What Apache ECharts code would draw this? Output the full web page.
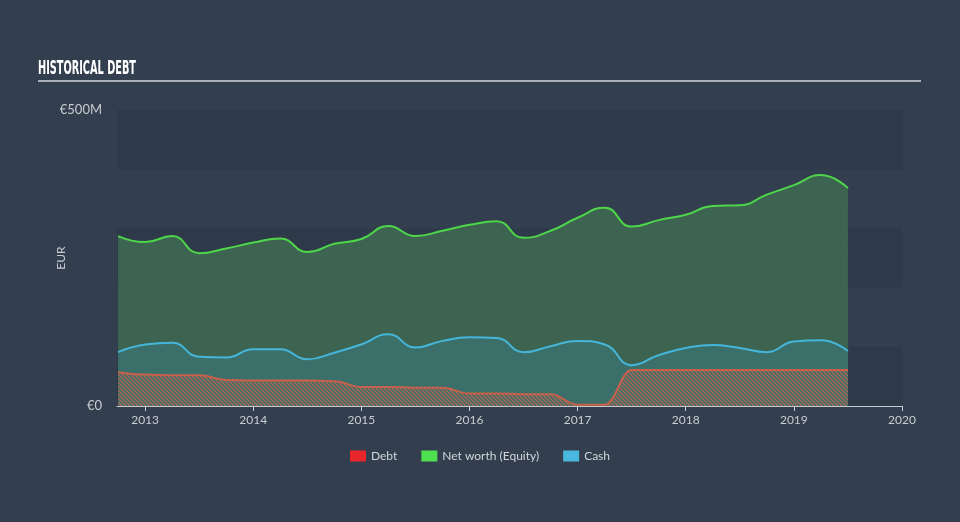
<!DOCTYPE html>
<html>
<head>
<meta charset="utf-8">
<script src="https://cdn.jsdelivr.net/npm/echarts@6/dist/echarts.min.js"></script>
<style>
html,body{margin:0;padding:0;background:#333f4e;}
#chart{width:960px;height:522px;}
</style>
</head>
<body>
<div id="chart"></div>
<script>
// Quarterly time points (fractional years)
var times = [2012.75, 2013.0, 2013.25, 2013.5, 2013.75, 2014.0, 2014.25, 2014.5, 2014.75,
  2015.0, 2015.25, 2015.5, 2015.75, 2016.0, 2016.25, 2016.5, 2016.75,
  2017.0, 2017.25, 2017.5, 2017.75, 2018.0, 2018.25, 2018.5, 2018.75,
  2019.0, 2019.25, 2019.5];
// Values in EUR millions
var equity = [287, 277, 287, 258, 266, 276, 283, 260, 274,
  282, 304, 287, 296, 306, 312, 284, 296,
  318, 335, 303, 314, 323, 338, 339, 357,
  373, 390, 368];
var cash = [91, 104, 107, 83, 82, 96, 96, 79, 90,
  104, 121, 99, 110, 116, 115, 91, 101,
  110, 104, 69, 86, 98, 103, 98, 91,
  109, 111, 93];
var debt = [57, 53, 52, 52, 44, 43, 43, 43, 42,
  32, 32, 31, 31, 21, 21, 20, 20,
  2, 2, 61, 61, 61, 61, 61, 61,
  61, 61, 61];
var yearTicks = [2013, 2014, 2015, 2016, 2017, 2018, 2019, 2020];
var yTickLabels = {0: '€0', 500: '€500M'};

function pairs(vals) {
  return times.map(function (t, i) { return [t, vals[i]]; });
}

// hatch pattern for debt
var pc = document.createElement('canvas');
pc.width = 4; pc.height = 4;
var ctx = pc.getContext('2d');
ctx.strokeStyle = 'rgba(200,100,78,0.8)';
ctx.lineWidth = 1.3;
ctx.beginPath();
ctx.moveTo(0, 0); ctx.lineTo(4, 4);
ctx.moveTo(-1, 3); ctx.lineTo(1, 5);
ctx.moveTo(3, -1); ctx.lineTo(5, 1);
ctx.stroke();

// title scale to fit condensed width
var titleText = 'HISTORICAL DEBT';
var titleFont = 'bold 19px "DejaVu Sans Condensed", "DejaVu Sans", sans-serif';
var mc = document.createElement('canvas').getContext('2d');
mc.font = titleFont;
var titleScale = 98 / mc.measureText(titleText).width;

var chart = echarts.init(document.getElementById('chart'), null, {renderer: 'canvas'});
var labelFont = 'Lato, "Open Sans", sans-serif';
chart.setOption({
  backgroundColor: '#333f4e',
  animation: false,
  graphic: [{
    type: 'text',
    x: 38, y: 60,
    scaleX: titleScale,
    style: {
      text: titleText,
      font: titleFont,
      fill: '#ffffff'
    }
  }, {
    type: 'line',
    shape: {x1: 38, y1: 81, x2: 921, y2: 81},
    style: {stroke: '#a9b0b8', lineWidth: 2}
  }],
  legend: {
    bottom: 55,
    left: 'center',
    icon: 'rect',
    itemWidth: 16, itemHeight: 11, itemGap: 24,
    textStyle: {color: '#d2d6da', fontSize: 12, fontFamily: labelFont},
    data: [
      {name: 'Debt', itemStyle: {color: '#e8262a', borderWidth: 0}},
      {name: 'Net worth (Equity)', itemStyle: {color: '#4ee04e', borderWidth: 0}},
      {name: 'Cash', itemStyle: {color: '#48b8de', borderWidth: 0}}
    ]
  },
  grid: {left: 117, right: 58, top: 110, bottom: 116, containLabel: false},
  xAxis: {
    type: 'value',
    min: 2012.74, max: 2020,
    axisLine: {show: true, lineStyle: {color: '#c3c9cf', width: 1}},
    axisTick: {show: true, length: 5, customValues: yearTicks, lineStyle: {color: '#c3c9cf'}},
    axisLabel: {
      customValues: yearTicks, color: '#c8cdd2', fontSize: 12, margin: 8,
      fontFamily: labelFont,
      formatter: function (v) { return String(Math.round(v)); }
    },
    splitLine: {show: false}
  },
  yAxis: {
    type: 'value',
    min: 0, max: 500, interval: 100,
    name: 'EUR',
    nameLocation: 'middle',
    nameRotate: 90,
    nameGap: 50,
    nameMoveOverlap: false,
    nameTextStyle: {color: '#c8cdd2', fontSize: 12, fontFamily: labelFont},
    axisLine: {show: false},
    axisTick: {show: false},
    axisLabel: {
      color: '#c8cdd2', fontSize: 13, margin: 15, fontFamily: labelFont,
      formatter: function (v) { return yTickLabels[v] || ''; }
    },
    splitLine: {show: false},
    splitArea: {show: true, areaStyle: {color: ['#2e3a4a', '#333f4f']}}
  },
  series: [
    {
      name: 'Net worth (Equity)',
      type: 'line',
      data: pairs(equity),
      smooth: 0.5,
      showSymbol: false,
      itemStyle: {color: '#4ee04e'},
      lineStyle: {color: '#4ed64a', width: 2},
      areaStyle: {color: '#3c6450', opacity: 1, origin: 'start'},
      z: 2
    },
    {
      name: 'Cash',
      type: 'line',
      data: pairs(cash),
      smooth: 0.5,
      showSymbol: false,
      itemStyle: {color: '#48b8de'},
      lineStyle: {color: '#45b6da', width: 2},
      areaStyle: {color: '#3b706a', opacity: 1, origin: 'start'},
      z: 3
    },
    {
      name: 'Debt',
      type: 'line',
      data: pairs(debt),
      smooth: 0.4, smoothMonotone: 'x',
      showSymbol: false,
      itemStyle: {color: '#e8262a'},
      lineStyle: {color: '#c8604c', width: 2},
      areaStyle: {color: {image: pc, repeat: 'repeat'}, opacity: 1, origin: 'start'},
      z: 4
    }
  ]
});
</script>
</body>
</html>
